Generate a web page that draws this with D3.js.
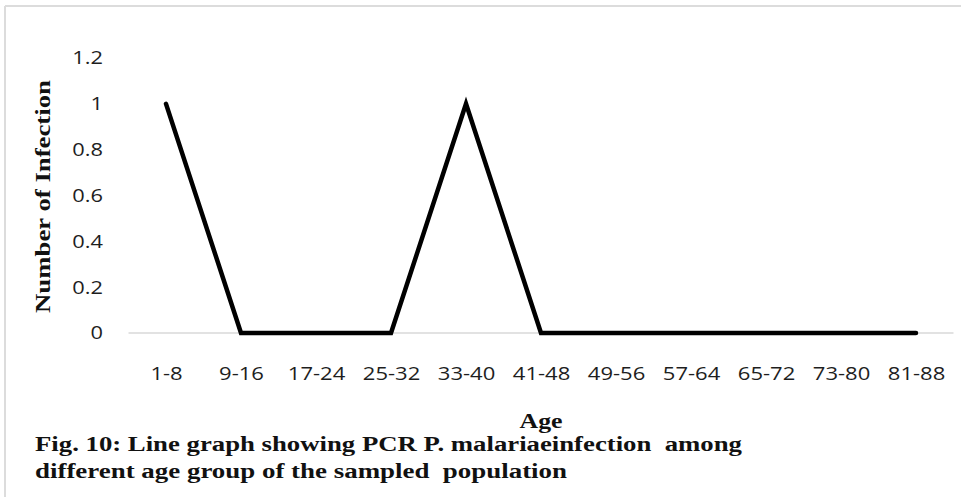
<!DOCTYPE html>
<html>
<head>
<meta charset="utf-8">
<script src="https://cdn.jsdelivr.net/npm/d3@7"></script>
<style>
  html, body { margin: 0; padding: 0; background: #fff; }
  svg { display: block; }
  text { white-space: pre; }
</style>
</head>
<body>
<svg id="chart" width="961" height="497"></svg>
<script>
// Age groups and PCR-detected P. malariae infections per group
const ageGroups = ["1-8", "9-16", "17-24", "25-32", "33-40", "41-48", "49-56", "57-64", "65-72", "73-80", "81-88"];
const infections = [1, 0, 0, 0, 1, 0, 0, 0, 0, 0, 0];
const yTicks = [0, 0.2, 0.4, 0.6, 0.8, 1, 1.2];
const yTickLabels = ["0", "0.2", "0.4", "0.6", "0.8", "1", "1.2"];
const captionLines = [
  "Fig. 10: Line graph showing PCR P. malariaeinfection  among",
  "different age group of the sampled  population"
];

const svg = d3.select("#chart");
const sansFont = "'Open Sans', 'Noto Sans', sans-serif";
const serifFont = "'Liberation Serif', 'Times New Roman', serif";

// Widen glyphs horizontally to the chart's wide lettering
function stretch(sel, factor) {
  sel.each(function () {
    const w = this.getComputedTextLength();
    this.setAttribute("textLength", w * factor);
    this.setAttribute("lengthAdjust", "spacingAndGlyphs");
  });
}

// Frame lines at top and left
svg.append("line").attr("x1", 5).attr("y1", 6).attr("x2", 961).attr("y2", 6)
  .attr("stroke", "#dcdcdc").attr("stroke-width", 2);
svg.append("line").attr("x1", 5).attr("y1", 6).attr("x2", 5).attr("y2", 497)
  .attr("stroke", "#dcdcdc").attr("stroke-width", 2);

const x = d3.scalePoint().domain(ageGroups).range([166, 916]);
const y = d3.scaleLinear().domain([0, 1.2]).range([333, 58]);

// Zero baseline spanning the full category bands
const half = x.step() / 2;
svg.append("line")
  .attr("x1", x(ageGroups[0]) - half).attr("x2", x(ageGroups[ageGroups.length - 1]) + half)
  .attr("y1", y(0)).attr("y2", y(0))
  .attr("stroke", "#d9d9d9").attr("stroke-width", 1.5);

// Y axis labels
const yAxis = svg.append("g")
  .attr("transform", "translate(103,0)")
  .call(d3.axisLeft(y).tickValues(yTicks).tickSize(0).tickPadding(0)
    .tickFormat((d, i) => yTickLabels[i]));
yAxis.select(".domain").remove();
yAxis.selectAll("text")
  .attr("font-family", sansFont).attr("font-size", 18.5).attr("fill", "#1e1e1e");
stretch(yAxis.selectAll("text"), 1.18);

// X axis labels
const xAxis = svg.append("g")
  .attr("transform", `translate(0,${y(0)})`)
  .call(d3.axisBottom(x).tickSize(0).tickPadding(34));
xAxis.select(".domain").remove();
xAxis.selectAll("text")
  .attr("font-family", sansFont).attr("font-size", 18.5).attr("fill", "#1e1e1e");
stretch(xAxis.selectAll("text"), 1.19);

// Infection line
const line = d3.line()
  .x((d, i) => x(ageGroups[i]))
  .y(d => y(d));
svg.append("path")
  .datum(infections)
  .attr("d", line)
  .attr("fill", "none")
  .attr("stroke", "#000")
  .attr("stroke-width", 4.5)
  .attr("stroke-linejoin", "miter")
  .attr("stroke-linecap", "round");

// Axis titles
svg.append("text")
  .attr("transform", "translate(50,196.5) rotate(-90)")
  .attr("text-anchor", "middle")
  .attr("font-family", serifFont).attr("font-weight", "bold").attr("font-size", 22)
  .attr("fill", "#111")
  .attr("textLength", 233).attr("lengthAdjust", "spacingAndGlyphs")
  .text("Number of Infection");

svg.append("text")
  .attr("x", 541).attr("y", 428)
  .attr("text-anchor", "middle")
  .attr("font-family", serifFont).attr("font-weight", "bold").attr("font-size", 22)
  .attr("fill", "#111")
  .attr("textLength", 43).attr("lengthAdjust", "spacingAndGlyphs")
  .text("Age");

// Figure caption
const captionWidths = [707, 532];
const captionY = [451, 478];
captionLines.forEach((t, i) => {
  svg.append("text")
    .attr("x", 35).attr("y", captionY[i])
    .attr("font-family", serifFont).attr("font-weight", "bold").attr("font-size", 20)
    .attr("fill", "#111")
    .attr("textLength", captionWidths[i]).attr("lengthAdjust", "spacingAndGlyphs")
    .text(t);
});
</script>
</body>
</html>
